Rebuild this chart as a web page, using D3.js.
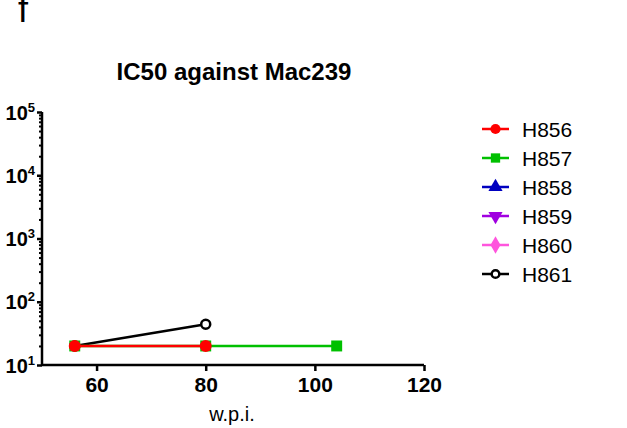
<!DOCTYPE html>
<html>
<head>
<meta charset="utf-8">
<script src="https://cdn.jsdelivr.net/npm/d3@7"></script>
<style>
  body { margin: 0; background: #fff; }
  text { font-family: "Liberation Sans", Arial, sans-serif; }
</style>
</head>
<body>
<svg id="chart" width="627" height="428"></svg>
<script>
// data
var seriesNames = ["H856", "H857", "H858", "H859", "H860", "H861"];
var seriesColors = ["#ff0000", "#00c000", "#0000c0", "#a000e0", "#ff55dd", "#000000"];
var seriesShapes = ["circle", "square", "triangle", "triangleDown", "diamond", "openCircle"];
var h856 = [[56, 20], [80, 20]];
var h857 = [[56, 20], [80, 20], [104, 20]];
var h858 = [];
var h859 = [];
var h860 = [];
var h861 = [[56, 20], [80, 44]];
var seriesValues = [h856, h857, h858, h859, h860, h861];
var xTicks = [60, 80, 100, 120];
var yTicks = [10, 100, 1000, 10000, 100000];

var svg = d3.select("#chart");

var x = d3.scaleLinear().domain([50, 120]).range([42, 424]);
var y = d3.scaleLog().domain([10, 100000]).range([365, 112]);

// panel letter (its top is cropped in the original) + title
svg.append("text").attr("x", 18).attr("y", 22)
    .style("font-size", "36px").text("f");
svg.append("text").attr("x", 234).attr("y", 80)
    .attr("text-anchor", "middle")
    .style("font-size", "24px").style("font-weight", "bold")
    .text("IC50 against Mac239");

// x axis
var xAxis = svg.append("g").attr("transform", "translate(0,365)")
    .call(d3.axisBottom(x).tickValues(xTicks).tickSize(6).tickFormat(d3.format("d")));
xAxis.select(".domain").attr("stroke-width", 2.5).attr("d", "M42,0H424");
xAxis.selectAll(".tick line").attr("stroke-width", 2.5);
xAxis.selectAll(".tick text").attr("y", 12).attr("dy", null)
    .attr("dominant-baseline", "hanging")
    .style("font-size", "21px").style("font-weight", "bold")
    .style("font-family", "'Liberation Sans', Arial, sans-serif").attr("fill", "#000");

svg.append("text").attr("x", 232).attr("y", 421)
    .attr("text-anchor", "middle").style("font-size", "20px").text("w.p.i.");

// y axis with minor ticks
var minor = [];
yTicks.slice(0, -1).forEach(function (d) {
    for (var k = 2; k < 10; k++) minor.push(d * k);
});
var yMinor = svg.append("g").attr("transform", "translate(42,0)")
    .call(d3.axisLeft(y).tickValues(minor).tickSize(3).tickFormat(""));
yMinor.select(".domain").remove();
yMinor.selectAll(".tick line").attr("stroke-width", 2);

var yAxis = svg.append("g").attr("transform", "translate(42,0)")
    .call(d3.axisLeft(y).tickValues(yTicks).tickSize(5).tickFormat(""));
yAxis.select(".domain").attr("stroke-width", 2.5).attr("d", "M0,112V366");
yAxis.selectAll(".tick line").attr("stroke-width", 2.5);

var yLab = yAxis.selectAll(".tick").append("text")
    .attr("x", -7).attr("y", 7)
    .attr("text-anchor", "end").attr("fill", "#000")
    .style("font-size", "20px").style("font-weight", "bold");
yLab.append("tspan").text("10");
yLab.append("tspan").attr("dy", -8).style("font-size", "13px")
    .text(function (d) { return Math.round(Math.log10(d)); });

// markers
function drawMarker(g, shape, color, cx, cy, scale) {
    var s = scale || 1;
    if (shape === "circle") {
        g.append("circle").attr("cx", cx).attr("cy", cy).attr("r", 6 * s).attr("fill", color);
    } else if (shape === "openCircle") {
        g.append("circle").attr("cx", cx).attr("cy", cy).attr("r", 4.5 * s)
            .attr("fill", "#fff").attr("stroke", color).attr("stroke-width", 2.5);
    } else {
        var sym = {
            square: d3.symbolSquare, triangle: d3.symbolTriangle,
            triangleDown: d3.symbolTriangle, diamond: d3.symbolDiamond
        }[shape];
        var rot = shape === "triangleDown" ? 180 : 0;
        g.append("path")
            .attr("d", d3.symbol().type(sym).size(120 * s * s)())
            .attr("transform", "translate(" + cx + "," + cy + ") rotate(" + rot + ")")
            .attr("fill", color);
    }
}

var line = d3.line().x(function (d) { return x(d[0]); }).y(function (d) { return y(d[1]); });
var plot = svg.append("g");
// draw last series first so H856 sits on top
for (var i = seriesNames.length - 1; i >= 0; i--) {
    var vals = seriesValues[i];
    if (!vals.length) continue;
    var g = plot.append("g");
    g.append("path").datum(vals).attr("d", line)
        .attr("fill", "none").attr("stroke", seriesColors[i]).attr("stroke-width", 2.5);
    vals.forEach(function (d) {
        drawMarker(g, seriesShapes[i], seriesColors[i], x(d[0]), y(d[1]));
    });
}

// legend
var legend = svg.append("g");
seriesNames.forEach(function (name, i) {
    var ly = 129 + i * 29;
    var lg = legend.append("g");
    lg.append("line").attr("x1", 482).attr("x2", 509).attr("y1", ly).attr("y2", ly)
        .attr("stroke", seriesColors[i]).attr("stroke-width", 2.5);
    drawMarker(lg, seriesShapes[i], seriesColors[i], 495.5, ly, 0.85);
    lg.append("text").attr("x", 522).attr("y", ly + 8)
        .style("font-size", "21px").text(name);
});
</script>
</body>
</html>
